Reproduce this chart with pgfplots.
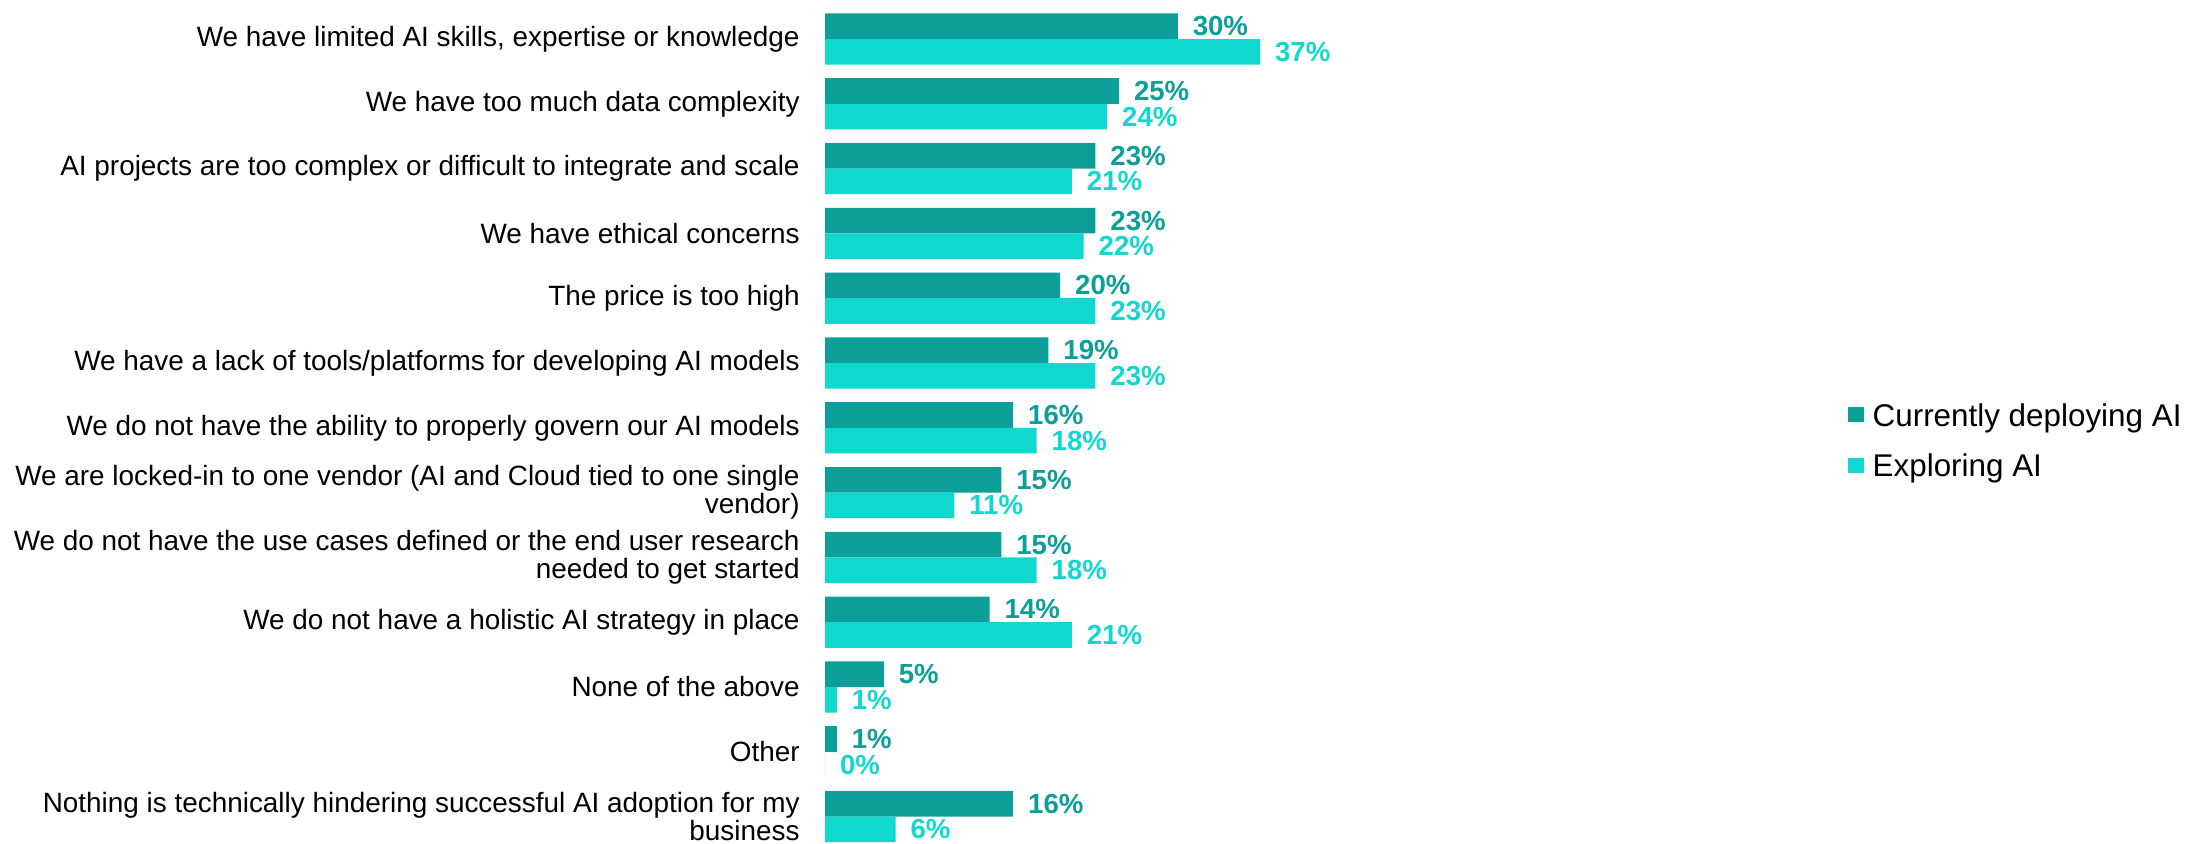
\documentclass[border=0pt]{standalone}
\usepackage{fontspec}
\setmainfont{Liberation Sans}
\usepackage{pgfplots}
\pgfplotsset{compat=1.18}
\definecolor{cdark}{HTML}{0C9E98}
\definecolor{clight}{HTML}{10D8CE}
\begin{document}
\begin{tikzpicture}
\path[use as bounding box] (0,0) rectangle (1094.5pt,421.5pt);
\begin{axis}[
 at={(412.5pt,0.25pt)}, anchor=south west,
 scale only axis, width=235.2pt, height=414.7pt,
 xbar, bar width=12.8pt,
 xmin=0, xmax=40, ymin=-0.4, ymax=12.4, y dir=reverse,
 axis line style={draw=none}, major tick length=0pt, xtick=\empty,
 ytick={0,1,2,3,4,5,6,7,8,9,10,11,12},
 yticklabels={
  {We have limited AI skills, expertise or knowledge},
  {We have too much data complexity},
  {AI projects are too complex or difficult to integrate and scale},
  {We have ethical concerns},
  {The price is too high},
  {We have a lack of tools/platforms for developing AI models},
  {We do not have the ability to properly govern our AI models},
  {We are locked-in to one vendor (AI and Cloud tied to one single\\vendor)},
  {We do not have the use cases defined or the end user research\\needed to get started},
  {We do not have a holistic AI strategy in place},
  {None of the above},
  {Other},
  {Nothing is technically hindering successful AI adoption for my\\business}},
 yticklabel style={align=right, inner sep=0pt, anchor=east, xshift=-12.5pt, font=\fontsize{13.95}{14.15}\selectfont},
 clip=false,
 point meta=x,
 nodes near coords={\pgfmathprintnumber{\pgfplotspointmeta}\%},
 /pgf/number format/assume math mode=true,
 nodes near coords style={anchor=west, inner sep=0pt, xshift=7.3pt, font=\bfseries\fontsize{13.8}{14}\selectfont},
 legend style={at={(axis description cs:2.1747,0.4817)}, anchor=west, draw=none, fill=none,
   inner sep=0pt, outer sep=0pt, row sep=10.95pt, cells={anchor=base west},
   nodes={inner sep=0pt, text height=11.3pt, text depth=3pt},
   font=\fontsize{15.7}{16}\selectfont,
   /tikz/every odd column/.append style={column sep=4.35pt}},
 legend image code/.code={\fill[#1] (0pt,1.9pt) rectangle (8pt,9.4pt);},
]
\addplot[fill=cdark, draw=none, bar shift=6.4pt, nodes near coords style={text=cdark}] coordinates {
 (30,0) (25,1) (23,2) (23,3) (20,4) (19,5) (16,6) (15,7) (15,8) (14,9) (5,10) (1,11) (16,12)};
\addlegendentry{Currently deploying AI}
\addplot[fill=clight, draw=none, bar shift=-6.4pt, nodes near coords style={text=clight}] coordinates {
 (37,0) (24,1) (21,2) (22,3) (23,4) (23,5) (18,6) (11,7) (18,8) (21,9) (1,10) (0,11) (6,12)};
\addlegendentry{Exploring AI}
\end{axis}
\end{tikzpicture}
\end{document}
